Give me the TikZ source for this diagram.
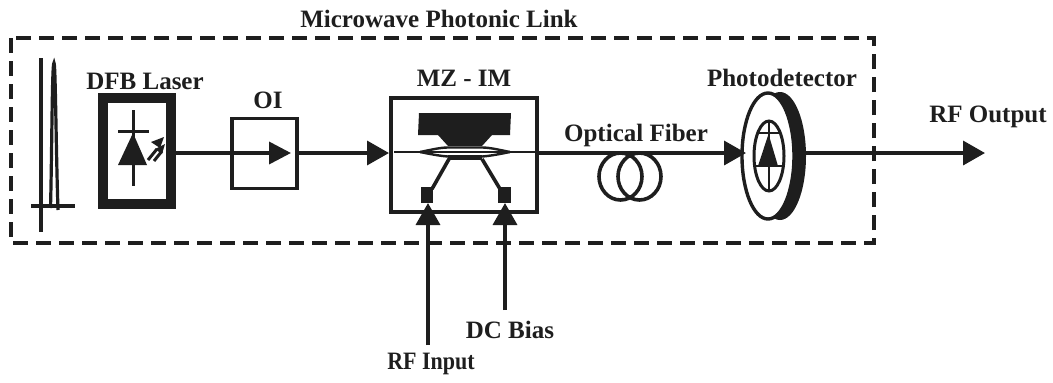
\documentclass[tikz,border=0pt]{standalone}
\usepackage{fontspec}
\setmainfont{Liberation Serif}
\usetikzlibrary{arrows.meta,shapes.geometric}
\definecolor{ink}{HTML}{1E1E1E}
\tikzset{
 lbl/.style={font=\bfseries\fontsize{25}{28}\selectfont,text=ink,inner sep=0pt,anchor=center},
 sig/.style={draw=ink,line width=3.6pt,-{Triangle[length=22pt,width=24pt,fill=ink]}},
 wire/.style={draw=ink,line width=3.6pt},
 fineline/.style={draw=ink,line width=2.4pt},
}
\begin{document}
\begin{tikzpicture}[x=1pt,y=-1pt,line join=miter]
\useasboundingbox (0,0) rectangle (1053,383);
\fill[white] (0,0) rectangle (1053,383);
% dashed link frame
\draw[draw=ink,line width=3.6pt,dash pattern=on 15pt off 8pt] (11,38) rectangle (874,243);
\node[lbl] (title) at (439,19) {Microwave Photonic Link};
% pulse
\coordinate (axisT) at (41,58); \coordinate (axisB) at (41,232);
\coordinate (baseL) at (31,206); \coordinate (baseR) at (75,206);
\draw[fineline,line width=3.2pt] (axisT) -- (axisB);
\draw[fineline,line width=3.2pt] (baseL) -- (baseR);
\draw[fineline,line width=3.2pt] (50.5,208) .. controls (52,150) and (52,63) .. (54,63) .. controls (55.5,63) and (56,150) .. (58,210);
% laser
\node[draw=ink,line width=10pt,minimum width=68pt,minimum height=106pt,inner sep=0pt,outer sep=5pt] (laser) at (137,151) {};
\node[lbl,anchor=center] (laserlbl) at (145,81) {DFB Laser};
\draw[fineline,line width=3pt] (133,110) -- (133,186);
\draw[fineline,line width=3pt] (118,131) -- (149,131);
\fill[ink] (133,133) -- (118,165) -- (147,165) -- cycle;
\draw[ink,line width=3pt] (148,160) -- (157,149);
\draw[ink,line width=3pt] (154,161) -- (162,151);
\fill[ink] (164,137) -- (151,142) -- (160,148) -- cycle;
\fill[ink] (165,144) -- (155,149) -- (162,154) -- cycle;
% OI
\node[draw=ink,line width=3.6pt,minimum width=65pt,minimum height=70pt,inner sep=0pt] (oi) at (264.5,153.5) {};
\node[lbl] (oilbl) at (268,100) {OI};
\draw[wire,-{Triangle[length=22pt,width=22pt,fill=ink]}] (oi.west |- 0,153) -- (291,153);
\draw[wire] (laser.east |- 0,153) -- (oi.west |- 0,153);
\draw[sig] (oi.east |- 0,153) -- (389,153);
% MZ
\node[draw=ink,line width=3.6pt,minimum width=146pt,minimum height=114pt,inner sep=0pt,outer sep=0pt] (mz) at (464,155) {};
\node[lbl] (mzlbl) at (464,78) {MZ - IM};
\fill[ink] (419,113) -- (511,113) -- (510,135) -- (492,135) -- (482,146) -- (448,146) -- (438,135) -- (418,135) -- cycle;
\fill[ink] (448,155) -- (482,155) -- (482,160) -- (448,160) -- cycle;
\draw[fineline] (394,152) -- (535,152);
\draw[fineline] (420,152) .. controls (430,150) and (440,147.5) .. (448,147.5) -- (482,147.5) .. controls (490,147.5) and (500,150) .. (510,152);
\draw[fineline] (420,152) .. controls (430,154) and (440,156) .. (448,156.5) -- (482,156.5) .. controls (490,156) and (500,154) .. (510,152);
\draw[ink,line width=3.6pt] (449,159) -- (432,189);
\draw[ink,line width=3.6pt] (482,159) -- (500,189);
\fill[ink] (421,187) rectangle (433,203);
\fill[ink] (498,187) rectangle (511,203);
% inputs
\coordinate (rfpad) at (428,203); \coordinate (dcpad) at (505,203);
\coordinate (rfstart) at (428,345); \coordinate (dcstart) at (505,310);
\draw[sig] (rfstart) -- (rfpad);
\draw[sig] (dcstart) -- (dcpad);
\node[lbl,xscale=0.88] (rflbl) at (431,364) {RF Input};
\node[lbl] (dclbl) at (510,330) {DC Bias};
% fibre
\draw[draw=ink,line width=3.6pt] (620.5,176.5) ellipse [x radius=21.5pt,y radius=23.5pt];
\draw[draw=ink,line width=3.6pt] (639.5,176.5) ellipse [x radius=21.5pt,y radius=23.5pt];
\node[lbl] (fiberlbl) at (636,135) {Optical Fiber};
% photodetector
\fill[ink] (780,156) ellipse [x radius=26pt,y radius=64pt];
\filldraw[draw=ink,line width=3.4pt,fill=white] (768,156) ellipse [x radius=26pt,y radius=63pt];
\node[draw=ink,line width=3pt,ellipse,minimum width=30pt,minimum height=70pt,inner sep=0pt] (pd) at (769,156) {};
\draw[fineline] (769,122) -- (769,191);
\draw[fineline] (757,133) -- (781,133);
\draw[fineline] (755,166) -- (783,166);
\fill[ink] (768.5,134) -- (758,166) -- (778,166) -- cycle;
\node[lbl] (pdlbl) at (782,78) {Photodetector};
\node[lbl] (outlbl) at (988,117) {RF Output};
\coordinate (mzout) at (537,153); \coordinate (pdin) at (746,153);
\draw[sig] (mzout) -- (pdin);
\coordinate (pdout) at (806,153); \coordinate (rfout) at (985,153);
\draw[sig] (pdout) -- (rfout);
\end{tikzpicture}
\end{document}
